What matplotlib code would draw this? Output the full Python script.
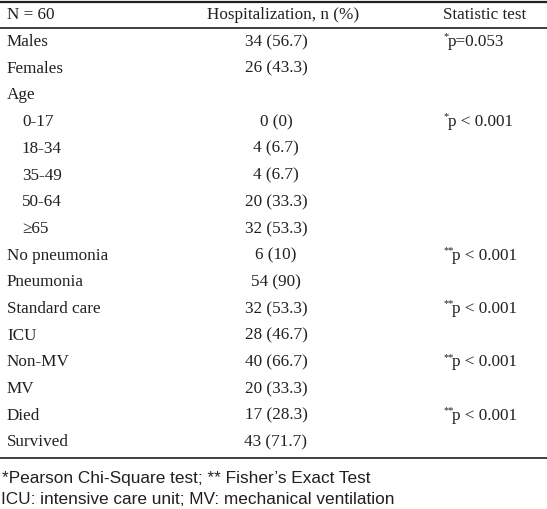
import matplotlib.pyplot as plt

# table content
headers = ["N = 60", "Hospitalization, n (%)", "Statistic test"]
labels = ["Males", "Females", "Age", "0-17", "18-34", "35-49", "50-64", "\u226565",
          "No pneumonia", "Pneumonia", "Standard care", "ICU", "Non-MV", "MV",
          "Died", "Survived"]
indented = [False, False, False, True, True, True, True, True,
            False, False, False, False, False, False, False, False]
values = ["34 (56.7)", "26 (43.3)", "", "0 (0)", "4 (6.7)", "4 (6.7)", "20 (33.3)",
          "32 (53.3)", "6 (10)", "54 (90)", "32 (53.3)", "28 (46.7)", "40 (66.7)",
          "20 (33.3)", "17 (28.3)", "43 (71.7)"]
stars = ["*", "", "", "*", "", "", "", "", "**", "", "**", "", "**", "", "**", ""]
tests = ["p=0.053", "", "", "p < 0.001", "", "", "", "", "p < 0.001", "",
         "p < 0.001", "", "p < 0.001", "", "p < 0.001", ""]
footnotes = ["*Pearson Chi-Square test; ** Fisher\u2019s Exact Test",
             "ICU: intensive care unit; MV: mechanical ventilation"]

W, H = 547, 509
fig = plt.figure(figsize=(W / 100, H / 100), dpi=100)
ax = fig.add_axes([0, 0, 1, 1])
ax.set_xlim(0, W)
ax.set_ylim(H, 0)
ax.axis("off")

ink = "#231f20"
serif = "Liberation Serif"
fs = 12.3

ax.axhline(1.5, color=ink, lw=1.6)
ax.axhline(27.5, color=ink, lw=1.2)
ax.axhline(458, color=ink, lw=1.2)

ax.text(7, 15, headers[0], family=serif, fontsize=fs, color=ink, va="center")
ax.text(283, 15, headers[1], family=serif, fontsize=fs, color=ink, va="center", ha="center")
ax.text(443, 15, headers[2], family=serif, fontsize=fs, color=ink, va="center")

y0, dy = 42, 26.7
for i in range(len(labels)):
    y = y0 + i * dy
    x = 22 if indented[i] else 7
    ax.text(x, y, labels[i], family=serif, fontsize=fs, color=ink, va="center")
    if values[i]:
        ax.text(276, y, values[i], family=serif, fontsize=fs, color=ink, va="center", ha="center")
    if tests[i]:
        ax.text(443, y - 5, stars[i], family=serif, fontsize=7.5, color=ink, va="center")
        off = 5 if len(stars[i]) == 1 else 9
        ax.text(443 + off, y, tests[i], family=serif, fontsize=fs, color=ink, va="center")

ax.text(2, 478, footnotes[0], family="Liberation Sans", fontsize=12.4, color=ink, va="center")
ax.text(1, 500, footnotes[1], family="Liberation Sans", fontsize=12.4, color=ink, va="center")

fig.savefig("out.png", dpi=100)
